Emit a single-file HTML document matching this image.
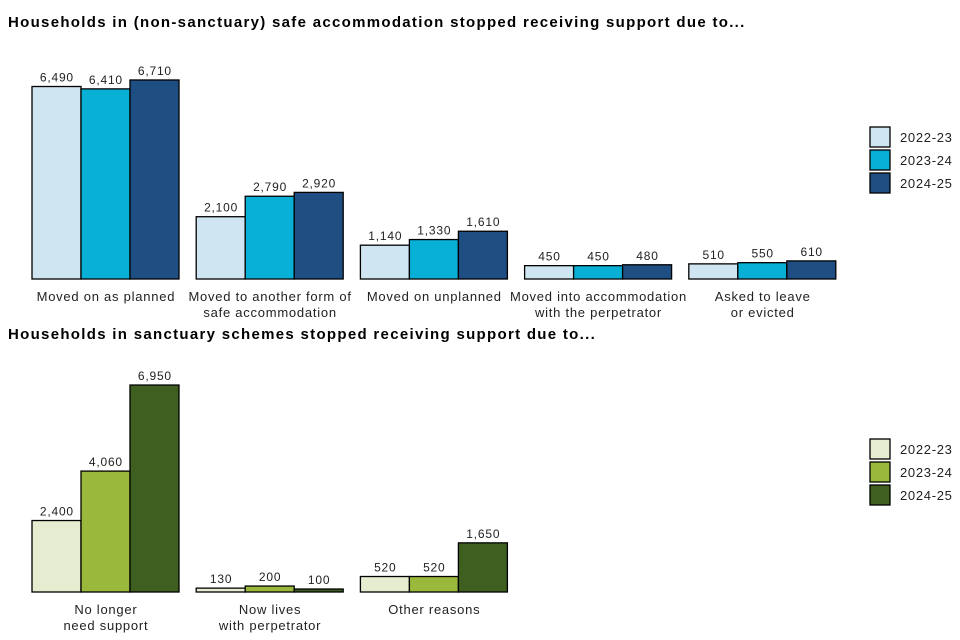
<!DOCTYPE html>
<html><head><meta charset="utf-8">
<style>
html,body{margin:0;padding:0;background:#fff;}
svg{display:block;font-family:"Liberation Sans",Arial,sans-serif;}
</style></head>
<body>
<svg id="chart" width="960" height="640" viewBox="0 0 960 640" xmlns="http://www.w3.org/2000/svg">
<text x="8" y="27" font-size="15" font-weight="bold" letter-spacing="1.3" fill="#000">Households in (non-sanctuary) safe accommodation stopped receiving support due to...</text>
<text x="8" y="339" font-size="15" font-weight="bold" letter-spacing="1.3" fill="#000">Households in sanctuary schemes stopped receiving support due to...</text>
</svg>
<script>
const years = ["2022-23","2023-24","2024-25"];
const topCategories = [["Moved on as planned"],["Moved to another form of","safe accommodation"],["Moved on unplanned"],["Moved into accommodation","with the perpetrator"],["Asked to leave","or evicted"]];
const top2223 = [6490,2100,1140,450,510];
const top2324 = [6410,2790,1330,450,550];
const top2425 = [6710,2920,1610,480,610];
const botCategories = [["No longer","need support"],["Now lives","with perpetrator"],["Other reasons"]];
const bot2223 = [2400,130,520];
const bot2324 = [4060,200,520];
const bot2425 = [6950,100,1650];

const svg = document.getElementById('chart');
const NS = "http://www.w3.org/2000/svg";
function mk(tag, attrs){const e=document.createElementNS(NS,tag);for(const k in attrs)e.setAttribute(k,attrs[k]);svg.appendChild(e);return e;}

function drawPanel(prefix, cats, series, colors, baseY, scale, legendY){
  const x0=32, groupStep=164.2, barW=49;
  const xScale=(i,j)=>x0+i*groupStep+j*barW;
  const yScale=v=>baseY-v*scale;
  cats.forEach((c,i)=>{
    series.forEach((s,j)=>{
      const v=s[i];
      const r=mk('rect',{x:xScale(i,j),y:yScale(v),width:barW,height:baseY-yScale(v),fill:colors[j],stroke:"#000","stroke-width":1.3});
      
      
      const t=mk('text',{x:xScale(i,j)+barW/2+0.4,y:yScale(v)-5,"font-size":12,"letter-spacing":0.8,"text-anchor":"middle",fill:"#222"});
      t.textContent=v.toLocaleString('en-US');
      
      
    });
    c.forEach((line,k)=>{
      const t=mk('text',{x:xScale(i,0)+barW*1.5+0.4,y:baseY+22+k*16,"font-size":13,"letter-spacing":0.75,"text-anchor":"middle",fill:"#222"});
      t.textContent=line;
      
      
    });
  });
  years.forEach((y,j)=>{
    const r=mk('rect',{x:870,y:legendY+j*23,width:20,height:20,fill:colors[j],stroke:"#000","stroke-width":1.3});
    
    
    const t=mk('text',{x:900,y:legendY+j*23+15,"font-size":13,"letter-spacing":0.7,fill:"#222"});
    t.textContent=y;
    
    
  });
}
drawPanel('top', topCategories, [top2223,top2324,top2425], ["#cfe5f1","#08b0d6","#1f4e82"], 279, 0.02966, 127);
drawPanel('bottom', botCategories, [bot2223,bot2324,bot2425], ["#e6ecd0","#9ab83b","#3e5f1f"], 592, 0.02978, 439);
</script>
</body></html>
